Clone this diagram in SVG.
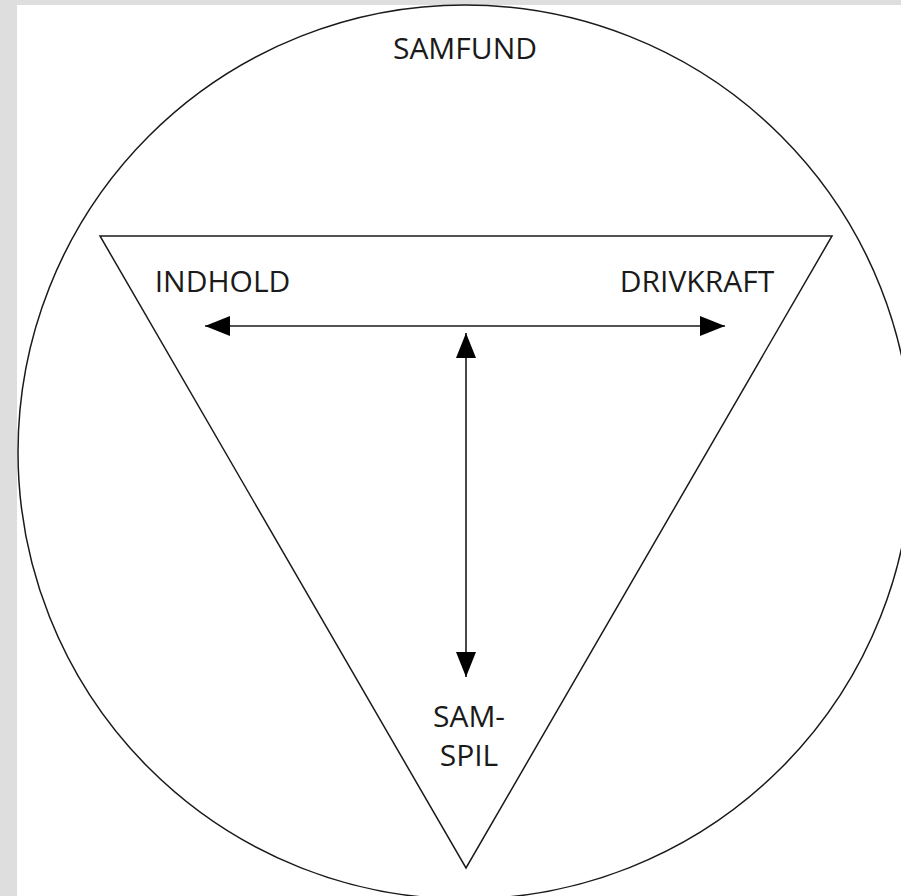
<svg xmlns="http://www.w3.org/2000/svg" width="901" height="896" viewBox="0 0 901 896">
  <style>
    .shape { fill: none; stroke: #1a1a1a; stroke-width: 1.5; }
    .conn { fill: none; stroke: #1a1a1a; stroke-width: 1.6; }
    .lbl { font-family: "Open Sans", "Liberation Sans", sans-serif; font-size: 30px; fill: #1a1a1a; text-anchor: middle; }
  </style>
  <defs>
    <marker id="ah" markerUnits="userSpaceOnUse" markerWidth="26" markerHeight="22" refX="25" refY="11" orient="auto-start-reverse">
      <path d="M0,1 L25,11 L0,21 Z" fill="#000"/>
    </marker>
  </defs>
  <rect x="0" y="0" width="901" height="896" fill="#dedede"/>
  <rect x="17" y="5" width="884" height="891" fill="#ffffff"/>
  <g id="samfund">
    <circle class="shape" cx="465" cy="452" r="447"/>
    <text class="lbl" x="465" y="59">SAMFUND</text>
  </g>
  <g id="triangle">
    <polygon class="shape" points="100,236 832,236 466,868"/>
  </g>
  <g id="indhold">
    <text class="lbl" x="222.5" y="292">INDHOLD</text>
  </g>
  <g id="drivkraft">
    <text class="lbl" x="697" y="292">DRIVKRAFT</text>
  </g>
  <g id="samspil">
    <text class="lbl" x="469" y="727">SAM-</text>
    <text class="lbl" x="469" y="766">SPIL</text>
  </g>
  <g id="connectors">
    <line class="conn" x1="205" y1="326" x2="725" y2="326" marker-start="url(#ah)" marker-end="url(#ah)"/>
    <line class="conn" x1="466" y1="333" x2="466" y2="677" marker-start="url(#ah)" marker-end="url(#ah)"/>
  </g>
</svg>
